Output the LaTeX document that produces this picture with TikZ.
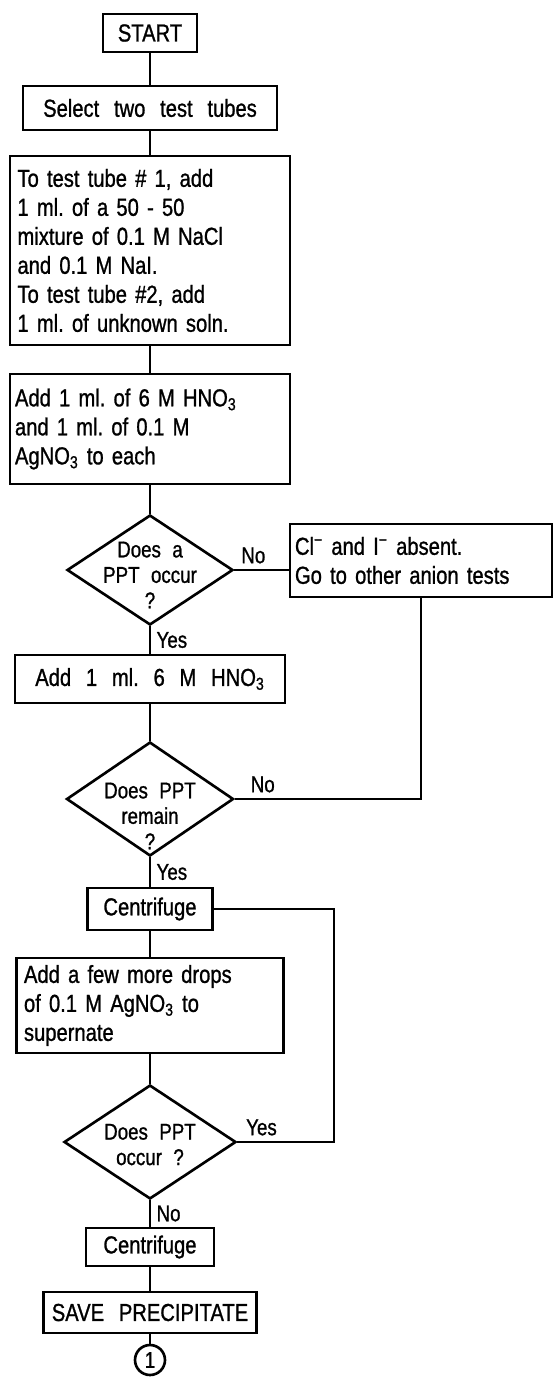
\documentclass[tikz,border=0pt]{standalone}
\usepackage{fontspec}
\setmainfont{Liberation Sans}[FakeStretch=0.82, FakeBold=1]
\usetikzlibrary{shapes.geometric}
\frenchspacing

% question text inside a diamond, shifted down by #1
\newcommand{\asktext}[2]{\raisebox{#1}[0pt][0pt]{\makebox[0pt]{\begin{tabular}{@{}c@{}}#2\end{tabular}}}}

\begin{document}
\begin{tikzpicture}[font={\fontsize{14}{16.5}\selectfont\spaceskip=0.6em\relax}, line width=1.5pt]
    \tikzset{proc box/.style={draw, inner xsep=0.15cm, inner ysep=0.08cm},
             test node/.style={diamond, draw, inner sep=0pt, font={\fontsize{13}{14.5}\selectfont\spaceskip=0.5em\relax}},
             answer/.style={font={\fontsize{13}{14}\selectfont}, inner sep=3pt}}
    \useasboundingbox (0,0) rectangle (11.08,-27.54);

    % Start and preparation
    \node[proc box, minimum width=1.88cm, minimum height=0.76cm] (start) at (3.0, -0.66) {START};
    \node[proc box, minimum width=5.08cm, minimum height=0.88cm] (select) at (3.0, -2.16) {Select two test tubes};
    \node[proc box, text width=5.3cm, minimum height=3.78cm, align=left] (mix) at (3.0, -5.01)
        {To test tube \# 1, add\\1 ml. of a 50 - 50\\mixture of 0.1 M NaCl\\and 0.1 M NaI.\\To test tube \#2, add\\1 ml. of unknown soln.};
    \node[proc box, inner xsep=0.1cm, text width=5.4cm, minimum height=2.2cm, align=left] (add_acid) at (3.0, -8.58)
        {Add 1 ml. of 6 M HNO\textsubscript{3}\\and 1 ml. of 0.1 M\\AgNO\textsubscript{3} to each};

    \draw (start) -- (select);
    \draw (select) -- (mix);
    \draw (mix) -- (add_acid);

    % First test - any precipitate?
    \node[test node, minimum width=3.32cm, minimum height=2.2cm] (q1) at (3.0, -11.4)
        {\asktext{-0.26cm}{Does a\\PPT occur\\?}};
    \node[proc box, inner xsep=0.1cm, text width=5.04cm, minimum height=1.46cm, align=left] (absent) at (8.42, -11.21)
        {Cl\textsuperscript{−} and I\textsuperscript{−} absent.\\Go to other anion tests};
    \node[proc box, minimum width=5.4cm, minimum height=0.96cm] (add_hno) at (3.0, -13.58) {Add 1 ml. 6 M HNO\textsubscript{3}};

    \draw (add_acid) -- (q1);
    \draw (q1) -- node[answer, pos=0.35, above] {No} (q1 -| absent.west);
    \draw (q1) -- node[answer, right] {Yes} (add_hno);

    % Second test - does it remain?
    \node[test node, minimum width=3.34cm, minimum height=2.28cm] (q2) at (3.0, -15.98)
        {\asktext{-0.5cm}{Does PPT\\remain\\?}};
    \coordinate (back) at (q2 -| absent);
    \node[proc box, minimum width=2.5cm, minimum height=0.84cm] (cent1) at (3.0, -18.18) {Centrifuge};

    \draw (add_hno) -- (q2);
    \draw (q2) -- node[answer, pos=0.15, above] {No} (back) -- (absent);
    \draw (q2) -- node[answer, right] {Yes} (cent1);

    % Third test - loop back to centrifuge
    \node[proc box, text width=5.04cm, minimum height=1.9cm, align=left] (add_ag) at (3.0, -20.11)
        {Add a few more drops\\of 0.1 M AgNO\textsubscript{3} to\\supernate};
    \node[test node, minimum width=3.44cm, minimum height=2.28cm] (q3) at (3.0, -22.84)
        {\asktext{-0.21cm}{Does PPT\\occur ?}};
    \coordinate (loop) at (6.68, -22.84);

    \draw (cent1) -- (add_ag);
    \draw (add_ag) -- (q3);
    \draw (q3) -- node[answer, pos=0.25, above] {Yes} (loop) |- (cent1);

    % End of the chart
    \node[proc box, minimum width=2.56cm, minimum height=0.76cm] (cent2) at (3.0, -24.94) {Centrifuge};
    \node[proc box, minimum width=4.26cm, minimum height=0.82cm] (save) at (3.0, -26.25) {SAVE PRECIPITATE};
    \node[circle, draw, inner sep=0pt, minimum size=0.6cm, font={\fontsize{13}{14}\selectfont}] (conn) at (3.0, -27.2) {1};

    \draw (q3) -- node[answer, right] {No} (cent2);
    \draw (cent2) -- (save);
    \draw (save) -- (conn);
\end{tikzpicture}
\end{document}
